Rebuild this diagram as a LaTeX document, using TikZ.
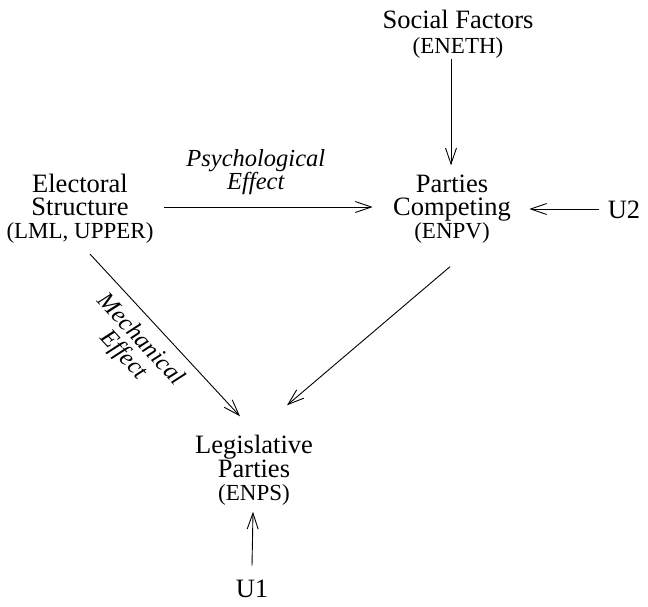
\documentclass[tikz,border=0pt]{standalone}
\usepackage{fontspec}
\setmainfont{Liberation Serif}
\usetikzlibrary{arrows.meta}
\newcommand{\abbr}[1]{{\fontsize{23}{23}\selectfont #1}}

\begin{document}
\begin{tikzpicture}[x=1pt,y=-1pt,
	var/.style={align=center,inner sep=0pt,font=\fontsize{26.5}{23}\selectfont},
	effect/.style={align=center,inner sep=0pt,font=\fontsize{24.5}{23}\selectfont\itshape},
	>={Straight Barb[length=16pt,width=11pt]},line width=0.9pt]
	\useasboundingbox (0,0) rectangle (648,606);
	\node[var] (social) at (458,34) {Social Factors\\[2pt]\abbr{(ENETH)}};
	\node[var] (elec) at (80,209) {Electoral\\Structure\\\abbr{(LML, UPPER)}};
	\node[var] (comp) at (452,209) {Parties\\Competing\\\abbr{(ENPV)}};
	\node[var] (u2) at (624,210) {U2};
	\node[var] (legis) at (254,470) {Legislative\\Parties\\\abbr{(ENPS)}};
	\node[var] (u1) at (252,589) {U1};
	\draw[->] ([xshift=-7pt,yshift=0pt]social.south) -- ([xshift=-1pt,yshift=9pt]comp.north);
	\draw[->] ([xshift=10pt,yshift=2pt]elec.east) -- node[effect,above=12pt,pos=0.44] {Psychological\\Effect} ([xshift=-20pt,yshift=2pt]comp.west);
	\draw[->] ([xshift=-8pt,yshift=1pt]u2.west) -- ([xshift=18pt,yshift=0pt]comp.east);
	\draw[->] ([xshift=10pt,yshift=-10pt]elec.south) -- node[effect,sloped,below=10pt,pos=0.44] {Mechanical\\Effect} ([xshift=-14pt,yshift=18pt]legis.north);
	\draw[->] ([xshift=-2pt,yshift=-23pt]comp.south) -- ([xshift=33pt,yshift=29pt]legis.north);
	\draw[->] ([yshift=14pt]u1.north) -- ([xshift=-1pt,yshift=-6pt]legis.south);
\end{tikzpicture}
\end{document}
